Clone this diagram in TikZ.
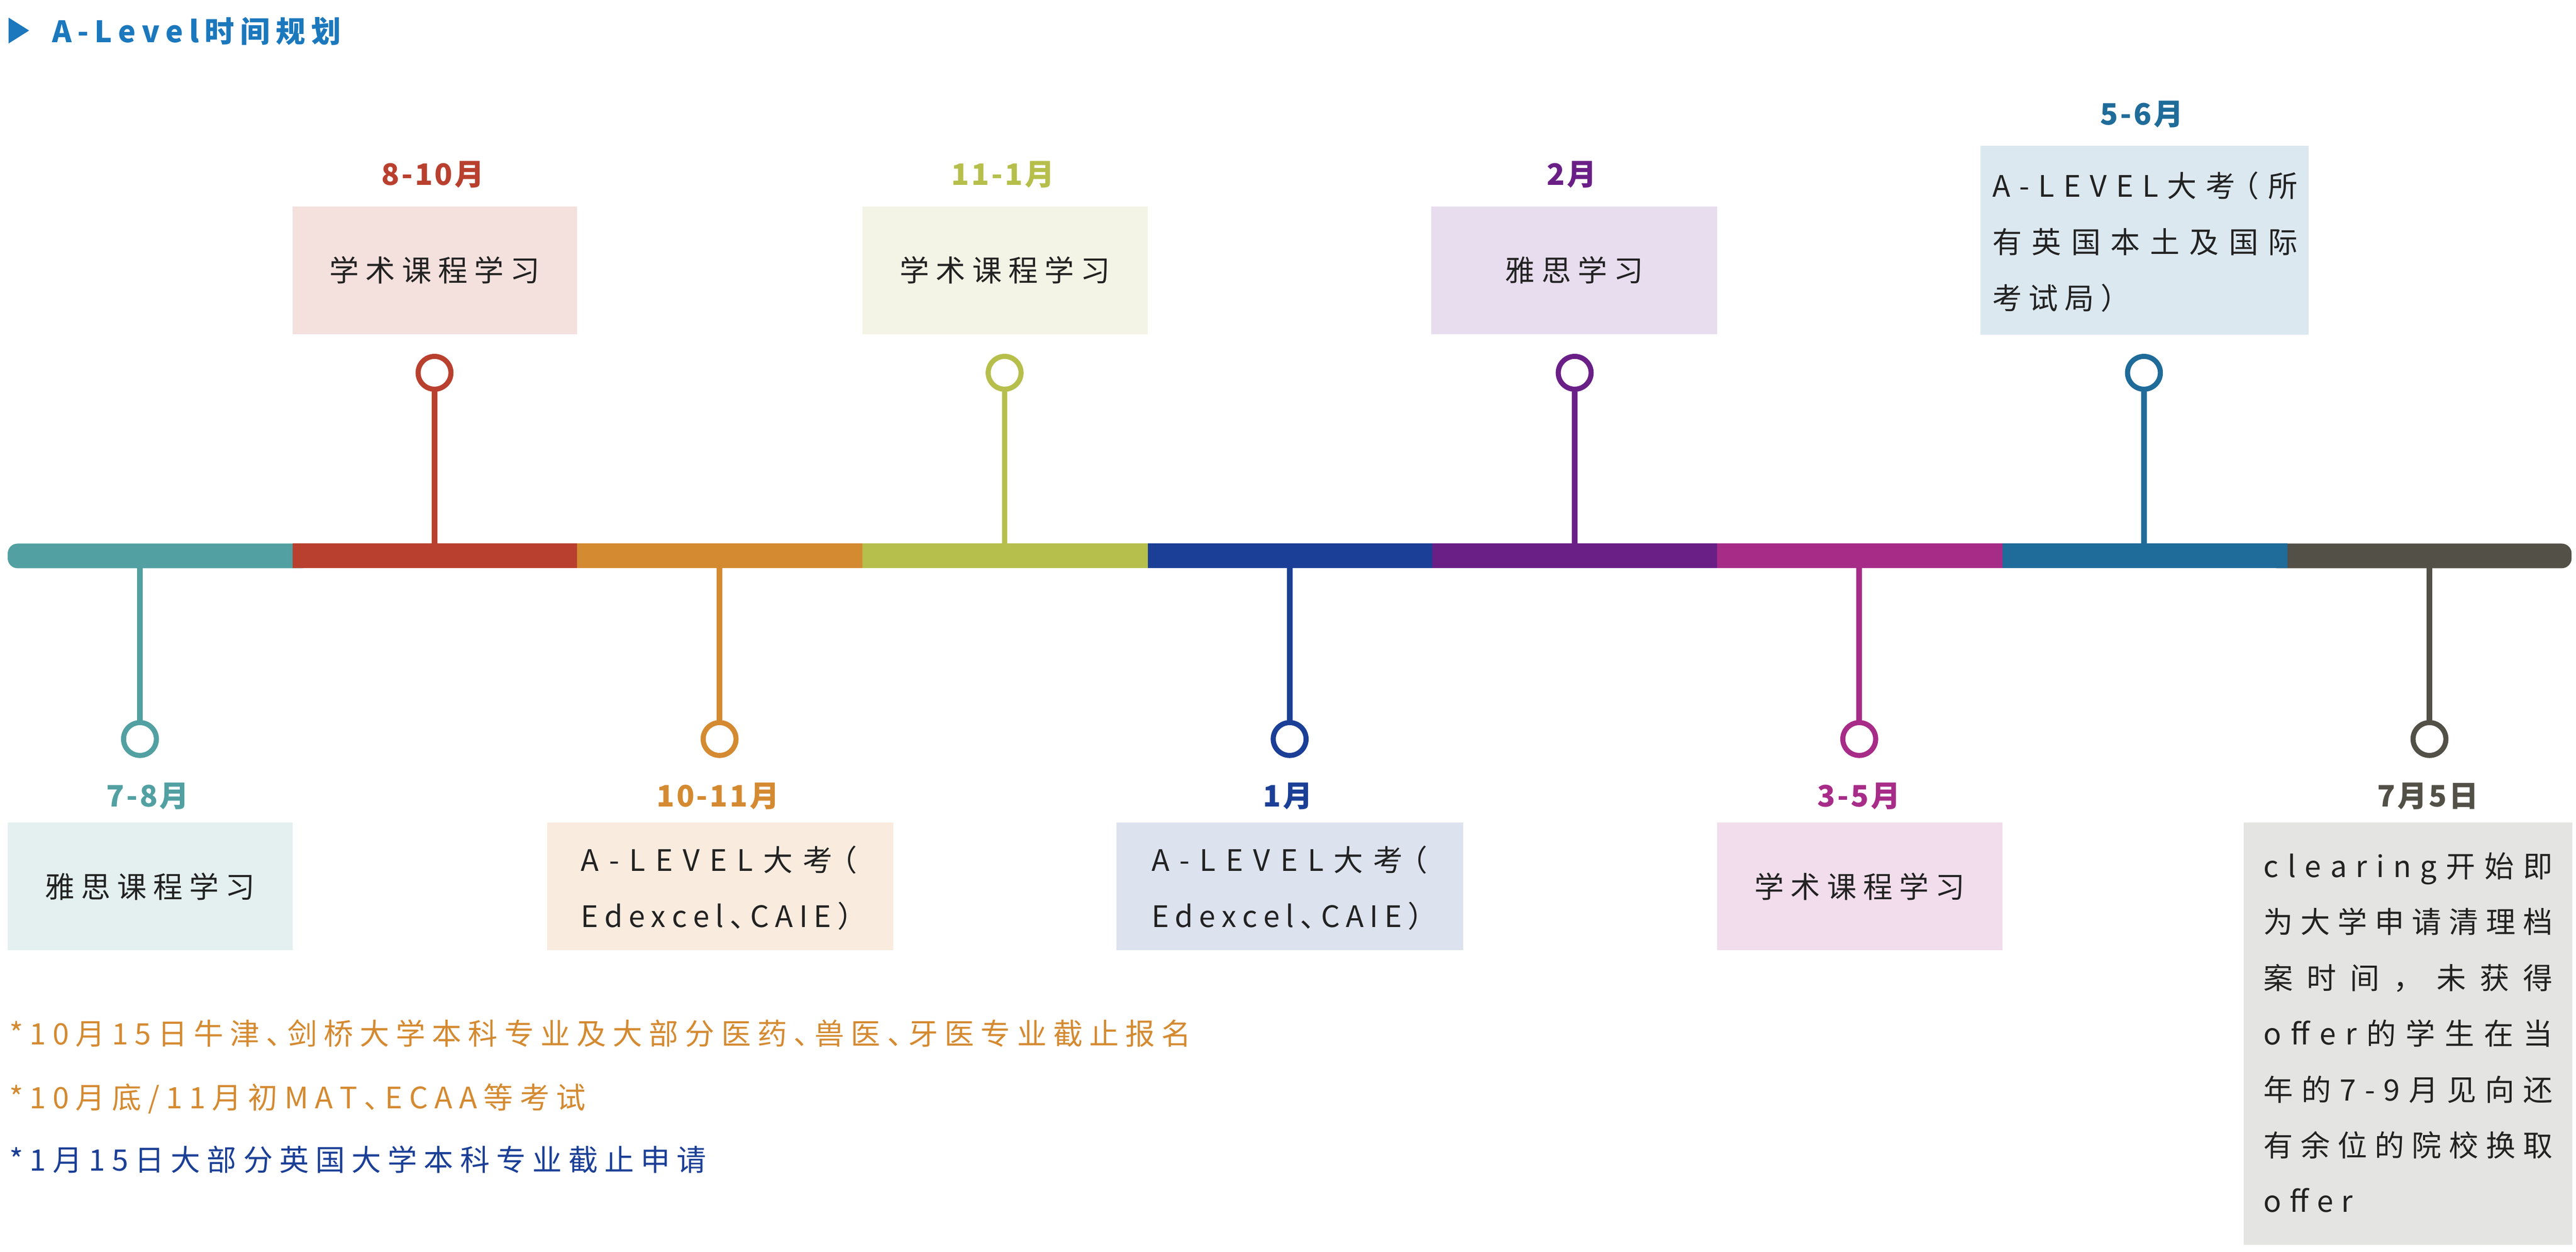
\documentclass[tikz,border=0pt]{standalone}
\usepackage{fontspec}
\setmainfont{Noto Sans CJK SC}
\definecolor{ctitle}{HTML}{1B78BD}
\definecolor{ctext}{HTML}{222222}
\definecolor{cteal}{HTML}{52A0A2}
\definecolor{cred}{HTML}{B9402E}
\definecolor{corange}{HTML}{D48A31}
\definecolor{cyg}{HTML}{B6BF4B}
\definecolor{cnavy}{HTML}{1B3F96}
\definecolor{cpurple}{HTML}{6A1F86}
\definecolor{cmagenta}{HTML}{A72C88}
\definecolor{csteel}{HTML}{1F6B99}
\definecolor{cgray}{HTML}{535047}
\definecolor{fteal}{HTML}{E4EFF0}
\definecolor{fred}{HTML}{F4E0DD}
\definecolor{forange}{HTML}{F9ECDF}
\definecolor{fyg}{HTML}{F3F4E5}
\definecolor{fnavy}{HTML}{DCE2EE}
\definecolor{fpurple}{HTML}{E8DDEE}
\definecolor{fmagenta}{HTML}{F1DDEC}
\definecolor{fsteel}{HTML}{DCE8F0}
\definecolor{fgray}{HTML}{E4E4E3}
\ExplSyntaxOn
\NewDocumentCommand\lsp{O{4pt}m}{\hbox{\tl_map_inline:nn{#2}{##1\kern#1}\unkern}}
\NewDocumentCommand\spr{mm}{\hbox~to~#1{\tl_map_inline:nn{#2}{##1\hfil}\unskip}}
\ExplSyntaxOff
\newcommand\HD{\makebox[.5em][l]{、}}
\newcommand\LP{\makebox[.5em][r]{（}}
\newcommand\RP{\makebox[.5em][l]{）}}
\begin{document}
\begin{tikzpicture}[x=1pt,y=-1pt,
  tbox/.style={inner sep=0pt,outer sep=0pt,anchor=north west,font=\fontsize{18}{18}\selectfont,text=ctext},
  mlabel/.style={inner sep=0pt,font=\fontsize{18}{18}\selectfont\bfseries,anchor=base},
  btext/.style={inner sep=0pt,font=\fontsize{18}{18}\selectfont,text=ctext,anchor=base west},
  ringnode/.style={circle,draw,line width=3.1pt,fill=white,minimum size=20pt,inner sep=0pt,outer sep=0pt},
  stemline/.style={line width=3.4pt},
  fnote/.style={inner sep=0pt,font=\fontsize{18}{18}\selectfont,anchor=base west}]
\useasboundingbox (0,0) rectangle (1568,762.2);
% title
\fill[ctitle] (5.2,10.7) -- (17.7,18.6) -- (5.2,26.5) -- cycle;
\node[anchor=base west,inner sep=0pt,text=ctitle,font=\fontsize{18}{18}\selectfont\bfseries] (title) at (31.5,26) {\lsp[3.6pt]{A-Level时间规划}};
% boxes top
\node[tbox,fill=fred,minimum width=173.3pt,minimum height=78pt] (bx2) at (178,125.6) {\lsp{学术课程学习}};
\node[tbox,fill=fyg,minimum width=173.6pt,minimum height=78pt] (bx4) at (525,125.6) {\lsp{学术课程学习}};
\node[tbox,fill=fpurple,minimum width=174pt,minimum height=78pt] (bx6) at (871.3,125.6) {\lsp{雅思学习}};
\node[tbox,fill=fsteel,minimum width=199.8pt,minimum height=115pt] (bx8) at (1205.4,88.8) {};
\node[btext] (t8a) at (1212.5,119.8) {\spr{186pt}{A-LEVEL大考\LP 所}};
\node[btext] (t8b) at (1212.5,154) {\spr{186pt}{有英国本土及国际}};
\node[btext] (t8c) at (1212.5,188.3) {\lsp{考试局\RP}};
% boxes bottom
\node[tbox,fill=fteal,minimum width=173.3pt,minimum height=78pt] (bx1) at (4.7,500.7) {\lsp{雅思课程学习}};
\node[tbox,fill=forange,minimum width=210.8pt,minimum height=78pt] (bx3) at (332.9,500.7) {};
\node[btext] (t3a) at (353.5,530.3) {\spr{168pt}{A-LEVEL大考\LP}};
\node[btext] (t3b) at (353.5,564.6) {\spr{165pt}{Edexcel\HD CAIE\RP}};
\node[tbox,fill=fnavy,minimum width=210.8pt,minimum height=78pt] (bx5) at (679.7,500.7) {};
\node[btext] (t5a) at (700.8,530.3) {\spr{168pt}{A-LEVEL大考\LP}};
\node[btext] (t5b) at (700.8,564.6) {\spr{165pt}{Edexcel\HD CAIE\RP}};
\node[tbox,fill=fmagenta,minimum width=173.5pt,minimum height=78pt] (bx7) at (1045.3,500.7) {\lsp{学术课程学习}};
\node[tbox,fill=fgray,minimum width=200pt,minimum height=257.3pt] (bx9) at (1365.8,500.7) {};
\node[btext] (t9a) at (1377.6,534.2) {\spr{176pt}{clearing开始即}};
\node[btext] (t9b) at (1377.6,568.2) {\spr{176pt}{为大学申请清理档}};
\node[btext] (t9c) at (1377.6,602.2) {\spr{176pt}{案时间，未获得}};
\node[btext] (t9d) at (1377.6,636.2) {\spr{176pt}{o{ff}er的学生在当}};
\node[btext] (t9e) at (1377.6,670.2) {\spr{176pt}{年的7-9月见向还}};
\node[btext] (t9f) at (1377.6,704.2) {\spr{176pt}{有余位的院校换取}};
\node[btext] (t9g) at (1377.6,738.2) {\lsp[5pt]{o{ff}er}};
% month labels
\node[mlabel,text=cred] (l2) at (263.5,112.6) {\lsp[1.2pt]{8-10月}};
\node[mlabel,text=cyg] (l4) at (610.5,112.6) {\lsp[1.2pt]{11-1月}};
\node[mlabel,text=cpurple] (l6) at (956.7,112.6) {\lsp[1.2pt]{2月}};
\node[mlabel,text=csteel] (l8) at (1303.7,76) {\lsp[1.2pt]{5-6月}};
\node[mlabel,text=cteal] (l1) at (90,491.4) {\lsp[1.2pt]{7-8月}};
\node[mlabel,text=corange] (l3) at (437,491.4) {\lsp[1.2pt]{10-11月}};
\node[mlabel,text=cnavy] (l5) at (784,491.4) {\lsp[1.2pt]{1月}};
\node[mlabel,text=cmagenta] (l7) at (1131.5,491.4) {\lsp[1.2pt]{3-5月}};
\node[mlabel,text=cgray] (l9) at (1477.8,491.4) {\lsp[1.2pt]{7月5日}};
% rings
\node[ringnode,draw=cteal] (c1) at (85.2,450) {};
\node[ringnode,draw=cred] (c2) at (264.5,227) {};
\node[ringnode,draw=corange] (c3) at (438,450) {};
\node[ringnode,draw=cyg] (c4) at (611.5,227) {};
\node[ringnode,draw=cnavy] (c5) at (785,450) {};
\node[ringnode,draw=cpurple] (c6) at (958.5,227) {};
\node[ringnode,draw=cmagenta] (c7) at (1131.7,450) {};
\node[ringnode,draw=csteel] (c8) at (1305,227) {};
\node[ringnode,draw=cgray] (c9) at (1478.8,450) {};
% bar anchor points
\coordinate (p1) at (85.2,338.5);
\coordinate (p2) at (264.5,338.5);
\coordinate (p3) at (438,338.5);
\coordinate (p4) at (611.5,338.5);
\coordinate (p5) at (785,338.5);
\coordinate (p6) at (958.5,338.5);
\coordinate (p7) at (1131.7,338.5);
\coordinate (p8) at (1305,338.5);
\coordinate (p9) at (1478.8,338.5);
% stems
\draw[stemline,cteal] (p1) -- (c1);
\draw[stemline,cred] (p2) -- (c2);
\draw[stemline,corange] (p3) -- (c3);
\draw[stemline,cyg] (p4) -- (c4);
\draw[stemline,cnavy] (p5) -- (c5);
\draw[stemline,cpurple] (p6) -- (c6);
\draw[stemline,cmagenta] (p7) -- (c7);
\draw[stemline,csteel] (p8) -- (c8);
\draw[stemline,cgray] (p9) -- (c9);
% timeline bar
\fill[cteal,rounded corners=6pt] (4.7,331) rectangle (190,346);
\fill[cred] (178,331) rectangle (351.3,346);
\fill[corange] (351.3,331) rectangle (525,346);
\fill[cyg] (525,331) rectangle (698.6,346);
\fill[cnavy] (698.6,331) rectangle (871.8,346);
\fill[cpurple] (871.8,331) rectangle (1045.3,346);
\fill[cmagenta] (1045.3,331) rectangle (1218.8,346);
\fill[cgray,rounded corners=6pt] (1380,331) rectangle (1565.3,346);
\fill[csteel] (1218.8,331) rectangle (1392.4,346);
% footnotes
\node[fnote,text=corange] (n1) at (5.5,636) {\lsp{*10月15日牛津\HD 剑桥大学本科专业及大部分医药\HD 兽医\HD 牙医专业截止报名}};
\node[fnote,text=corange] (n2) at (5.5,675) {\lsp{*10月底/11月初MAT\HD ECAA等考试}};
\node[fnote,text=cnavy] (n3) at (5.5,713) {\lsp{*1月15日大部分英国大学本科专业截止申请}};
\end{tikzpicture}
\end{document}
